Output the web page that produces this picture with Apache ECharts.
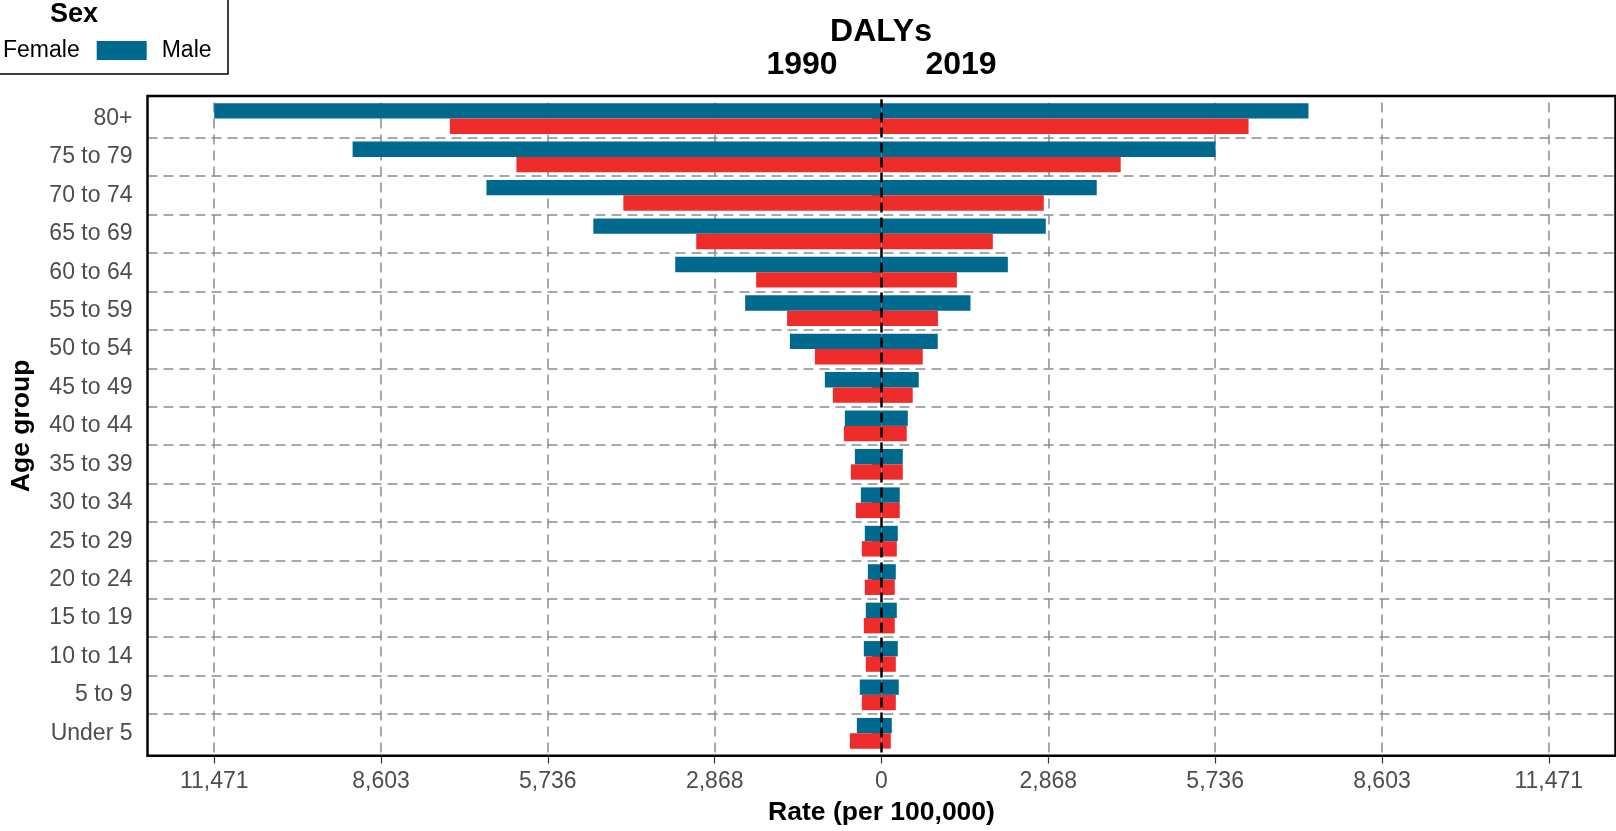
<!DOCTYPE html>
<html>
<head>
<meta charset="utf-8">
<title>DALYs by age group, 1990 vs 2019</title>
<script src="https://cdn.jsdelivr.net/npm/echarts@6/dist/echarts.min.js"></script>
<style>
  html, body { margin: 0; padding: 0; background: #fff; }
  #chart { width: 1616px; height: 831px; }
</style>
</head>
<body>
<div id="chart"></div>
<script>
// age groups, bottom -> top (category axis draws first item at the bottom)
const ageGroups = ['Under 5', '5 to 9', '10 to 14', '15 to 19', '20 to 24', '25 to 29',
  '30 to 34', '35 to 39', '40 to 44', '45 to 49', '50 to 54', '55 to 59',
  '60 to 64', '65 to 69', '70 to 74', '75 to 79', '80+']

// rates per 100,000
const male1990 = [424, 373, 304, 270, 235, 287, 355, 458, 630, 974, 1574, 2344, 3546, 4954, 6791, 9092, 11471]
const female1990 = [544, 338, 270, 304, 287, 338, 441, 527, 647, 836, 1145, 1623, 2155, 3185, 4438, 6276, 7421]
const male2019 = [177, 297, 280, 263, 246, 280, 314, 366, 452, 640, 967, 1530, 2172, 2824, 3700, 5743, 7340]
const female2019 = [160, 246, 246, 228, 228, 263, 314, 366, 434, 537, 709, 970, 1296, 1914, 2790, 4112, 6310]

// x ticks (quarters of the max) and their labels
const tickValues = [-11471, -8603.25, -5735.5, -2867.75, 0, 2867.75, 5735.5, 8603.25, 11471]
const tickLabels = ['11,471', '8,603', '5,736', '2,868', '0', '2,868', '5,736', '8,603', '11,471']

const FONT = '"Liberation Sans", Arial, sans-serif'
const TEAL = '#006a8e'
const RED = '#ee2c2c'
const X_LIMIT = 12618 // max * 1.1, like ggplot's expansion

const chart = echarts.init(document.getElementById('chart'))

const tickLabel = v => {
  let idx = 0
  tickValues.forEach((t, i) => { if (Math.abs(t - v) < Math.abs(tickValues[idx] - v)) idx = i })
  return tickLabels[idx]
}

const bar = (name, stack, data, color, extra) => Object.assign({
  name: name,
  type: 'bar',
  stack: stack,
  data: data,
  barGap: '0%',
  barCategoryGap: '20%',
  itemStyle: { color: color },
  emphasis: { disabled: true }
}, extra || {})

const option = {
  animation: false,
  backgroundColor: '#fff',
  grid: { left: 147.5, right: 0.5, top: 99.3, bottom: 78.5, outerBoundsMode: 'none' },
  legend: {
    data: ['Female', 'Male'],
    left: -62,
    top: 39,
    padding: 0,
    itemWidth: 50,
    itemHeight: 19,
    itemGap: 17,
    icon: 'rect',
    selectedMode: false,
    textStyle: { fontSize: 23, color: '#000', fontFamily: FONT, padding: [0, 0, 0, 10] }
  },
  xAxis: {
    type: 'value',
    min: -X_LIMIT,
    max: X_LIMIT,
    offset: 3,
    axisLine: { show: false },
    splitLine: { show: false },
    axisTick: { show: true, customValues: tickValues, length: 8, lineStyle: { color: '#333', width: 1.2 } },
    axisLabel: {
      customValues: tickValues, formatter: tickLabel, margin: 15,
      fontSize: 23, color: '#4d4d4d', fontFamily: FONT
    },
    name: 'Rate (per 100,000)',
    nameLocation: 'middle',
    nameGap: 44,
    nameTextStyle: { fontSize: 26.5, fontWeight: 'bold', color: '#000', fontFamily: FONT }
  },
  yAxis: {
    type: 'category',
    data: ageGroups,
    axisLine: { show: false },
    axisTick: { show: true, alignWithLabel: true, interval: 0, length: 9, lineStyle: { color: '#333', width: 1.2 } },
    axisLabel: { interval: 0, margin: 15, fontSize: 23, color: '#4d4d4d', fontFamily: FONT },
    splitLine: {
      show: true, interval: 0, showMinLine: false, showMaxLine: false,
      lineStyle: { color: '#8c8c8c', type: [10, 6], width: 1.5 }
    },
    name: 'Age group',
    nameLocation: 'middle',
    nameRotate: 90,
    nameGap: 112,
    nameTextStyle: { fontSize: 26.5, fontWeight: 'bold', color: '#000', fontFamily: FONT }
  },
  // male series come first so their bars sit on top in each group
  series: [
    bar('Male', 'M', male1990.map(v => -v), TEAL, {
      markLine: {
        silent: true, symbol: 'none', z: 1,
        label: { show: false },
        lineStyle: { color: '#8c8c8c', type: [10, 6], width: 1.5 },
        data: tickValues.filter(v => v !== 0).map(v => ({ xAxis: v }))
      }
    }),
    bar('Female', 'F', female1990.map(v => -v), RED),
    bar('Male', 'M', male2019, TEAL),
    bar('Female', 'F', female2019, RED, {
      markLine: {
        silent: true, symbol: 'none', z: 20,
        label: { show: false },
        lineStyle: { color: '#000', type: [10, 5], width: 2.5 },
        data: [{ xAxis: 0 }]
      }
    })
  ],
  graphic: [
    // legend box (runs off the top-left corner like the original)
    { type: 'rect', z: 1, shape: { x: -10, y: -10, width: 238, height: 84 },
      style: { fill: '#fff', stroke: '#000', lineWidth: 1.5 } },
    { type: 'text', z: 5, x: 74, y: 15,
      style: { text: 'Sex', font: 'bold 27px ' + FONT, fill: '#000', align: 'center', verticalAlign: 'middle' } },
    // title
    { type: 'text', z: 5, x: 881, y: 32,
      style: { text: 'DALYs', font: 'bold 32px ' + FONT, fill: '#000', align: 'center', verticalAlign: 'middle' } },
    { type: 'text', z: 5, x: 802, y: 65,
      style: { text: '1990', font: 'bold 32px ' + FONT, fill: '#000', align: 'center', verticalAlign: 'middle' } },
    { type: 'text', z: 5, x: 961, y: 65,
      style: { text: '2019', font: 'bold 32px ' + FONT, fill: '#000', align: 'center', verticalAlign: 'middle' } },
    // panel border
    { type: 'rect', z: 100, silent: true, shape: { x: 147.5, y: 96, width: 1468, height: 659.7 },
      style: { fill: 'none', stroke: '#000', lineWidth: 2.5 } }
  ]
}

chart.setOption(option)
</script>
</body>
</html>
